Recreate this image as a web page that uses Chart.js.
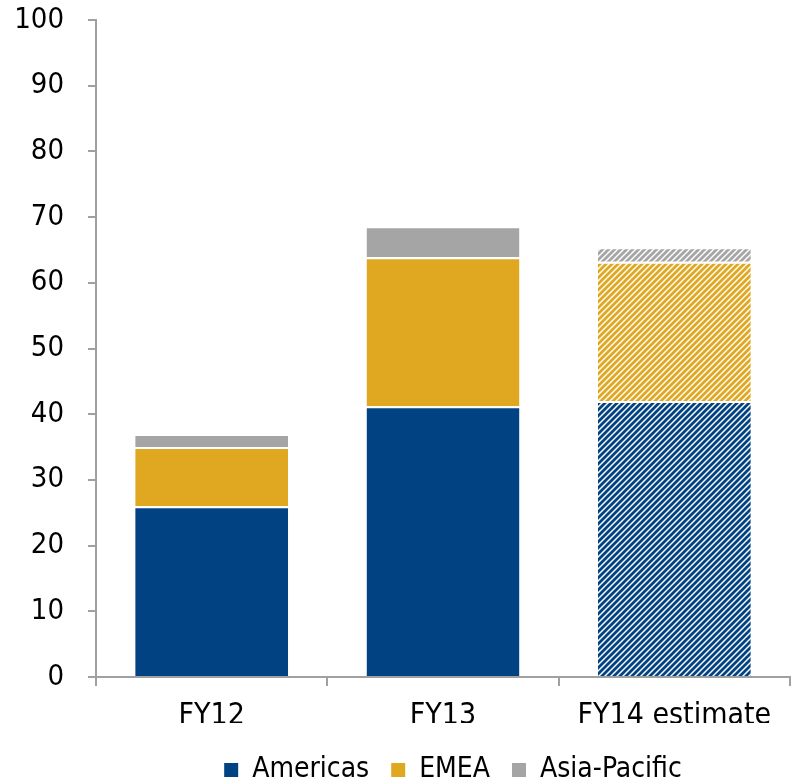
<!DOCTYPE html>
<html><head><meta charset="utf-8">
<script src="https://cdn.jsdelivr.net/npm/chart.js@4"></script>
<style>html,body{margin:0;padding:0;background:#fff}#c{display:block}</style>
</head><body>
<canvas id="c" width="792" height="783"></canvas>
<script>
const categories = ["FY12", "FY13", "FY14 estimate"];
const americas = [26.0, 41.2, 42.0];
const emea = [9.0, 22.7, 21.2];
const asiaPacific = [2.0, 4.7, 2.2];
const yTicks = [0, 10, 20, 30, 40, 50, 60, 70, 80, 90, 100];

const BLUE = '#004282', GOLD = '#E0A820', GRAY = '#A5A5A5';
const FONT = "'DejaVu Sans Condensed', 'DejaVu Sans', sans-serif";

function hatch(color) {
  const s = 6;
  const c = document.createElement('canvas');
  c.width = s; c.height = s;
  const x = c.getContext('2d');
  x.fillStyle = '#fff'; x.fillRect(0, 0, s, s);
  x.strokeStyle = color; x.lineWidth = 2.8;
  x.beginPath();
  x.moveTo(-1, s + 1); x.lineTo(s + 1, -1);
  x.moveTo(-1, 1); x.lineTo(1, -1);
  x.moveTo(s - 1, s + 1); x.lineTo(s + 1, s - 1);
  x.stroke();
  return x.createPattern(c, 'repeat');
}

const legendShift = {
  id: 'legendShift',
  afterLayout(chart) {
    const l = chart.legend;
    if (!l) return;
    l.left += 58; l.right += 58;
    l.top += 11; l.bottom += 11;
  }
};

const ctx = document.getElementById('c').getContext('2d');
new Chart(ctx, {
  type: 'bar',
  data: {
    labels: categories,
    datasets: [
      { label: 'Americas', data: americas, backgroundColor: [BLUE, BLUE, hatch(BLUE)], legendColor: BLUE },
      { label: 'EMEA', data: emea, backgroundColor: [GOLD, GOLD, hatch(GOLD)], legendColor: GOLD },
      { label: 'Asia-Pacific', data: asiaPacific, backgroundColor: [GRAY, GRAY, hatch(GRAY)], legendColor: GRAY }
    ].map(d => Object.assign(d, { borderColor: '#fff', borderWidth: { top: 2 }, borderSkipped: false, categoryPercentage: 0.661, barPercentage: 1 }))
  },
  plugins: [legendShift],
  options: {
    responsive: false,
    animation: false,
    layout: { padding: { top: 20, right: 2, left: 0, bottom: 0 } },
    plugins: {
      tooltip: { enabled: false },
      legend: {
        position: 'bottom',
        labels: {
          font: { family: FONT, size: 28 },
          color: '#000',
          boxWidth: 14, boxHeight: 14, padding: 22,
          generateLabels: (chart) => chart.data.datasets.map((d, i) => ({
            text: d.label, fillStyle: d.legendColor, strokeStyle: d.legendColor, lineWidth: 0, datasetIndex: i, fontColor: '#000'
          }))
        }
      }
    },
    scales: {
      x: {
        stacked: true,
        offset: true,
        grid: { offset: true, drawOnChartArea: false, drawTicks: true, tickLength: 9, color: '#A0A0A0', lineWidth: 2 },
        border: { color: '#A0A0A0', width: 2 },
        ticks: { font: { family: FONT, size: 30 }, color: '#000', padding: 12 },
        afterFit: (s) => { s.height = 46; s.paddingLeft = 0; s.paddingRight = 0; }
      },
      y: {
        stacked: true,
        min: 0, max: 100,
        afterBuildTicks: (s) => { s.ticks = yTicks.map(v => ({ value: v })); },
        grid: { drawOnChartArea: false, drawTicks: true, tickLength: 8, color: '#A0A0A0', lineWidth: 2 },
        border: { color: '#A0A0A0', width: 2 },
        ticks: { font: { family: FONT, size: 29 }, color: '#000', padding: 24 },
        afterFit: (s) => { s.width = 96; s.paddingTop = 0; s.paddingBottom = 0; }
      }
    }
  }
});
</script>
</body></html>
